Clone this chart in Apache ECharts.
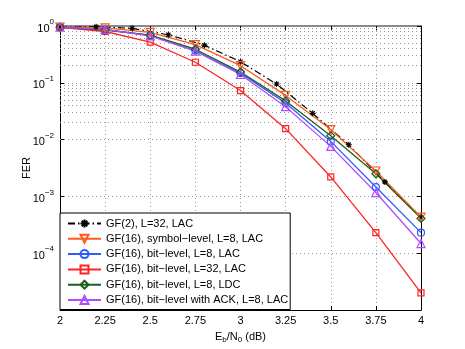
<!DOCTYPE html>
<html>
<head>
<meta charset="utf-8">
<script src="https://cdn.jsdelivr.net/npm/echarts@6/dist/echarts.min.js"></script>
<style>
  html, body { margin: 0; padding: 0; background: #fff; }
  #chart { width: 465px; height: 349px; }
</style>
</head>
<body>
<div id="chart"></div>
<script>
// Eb/N0 points (dB)
const ebnoFine = [2, 2.2, 2.4, 2.6, 2.8, 3, 3.2, 3.4, 3.6, 3.8, 4];
const ebnoStep = [2, 2.25, 2.5, 2.75, 3, 3.25, 3.5, 3.75, 4];

// FER
const ferGf2 = [0.97, 0.97, 0.91, 0.70, 0.46, 0.235, 0.095, 0.029, 0.0081, 0.0018, 0.00043];
const ferSymbolL8 = [0.96, 0.93, 0.77, 0.47, 0.20, 0.06, 0.015, 0.0028, 0.00043];
const ferBitL8 = [0.95, 0.86, 0.68, 0.37, 0.148, 0.044, 0.0093, 0.00146, 0.00023];
const ferBitL32 = [0.95, 0.80, 0.52, 0.23, 0.073, 0.0156, 0.0022, 0.00023, 0.00002];
const ferBitL8Ldc = [0.95, 0.85, 0.69, 0.39, 0.155, 0.048, 0.0117, 0.0025, 0.00041];
const ferBitAck = [0.95, 0.87, 0.67, 0.36, 0.14, 0.038, 0.0076, 0.00117, 0.000148];

const seriesNames = [
  'GF(2), L=32, LAC',
  'GF(16), symbol−level, L=8, LAC',
  'GF(16), bit−level, L=8, LAC',
  'GF(16), bit−level, L=32, LAC',
  'GF(16), bit−level, L=8, LDC',
  'GF(16), bit−level with ACK, L=8, LAC'
];

// minor log grid values 2..9 x 10^k
const minorDecades = [-5, -4, -3, -2, -1];
const minorMantissas = [2, 3, 4, 5, 6, 7, 8, 9];

const FONT = '"Liberation Sans", Arial, Helvetica, sans-serif';
const gridDots = { color: '#9a9a9a', type: [1, 3], width: 1 };
const asterisk = 'path://M0,5L10,5M5,0L5,10M1.5,1.5L8.5,8.5M8.5,1.5L1.5,8.5';

function pairs(xs, ys) {
  return xs.map((x, i) => [x, ys[i]]);
}

function lineSeries(name, xs, ys, color, symbol, size, extra) {
  return Object.assign({
    type: 'line',
    name: name,
    data: pairs(xs, ys),
    symbol: symbol,
    symbolSize: size,
    showSymbol: true,
    lineStyle: { color: color, width: 1.3 },
    itemStyle: { color: 'transparent', borderColor: color, borderWidth: 1.2 },
    emphasis: { disabled: true },
    z: 3
  }, extra || {});
}

const minorLines = [];
minorDecades.forEach((k) => {
  minorMantissas.forEach((m) => minorLines.push({ yAxis: m * Math.pow(10, k) }));
});

const chart = echarts.init(document.getElementById('chart'));

chart.setOption({
  animation: false,
  backgroundColor: '#ffffff',
  textStyle: { fontFamily: FONT },
  grid: { left: 60, right: 44, top: 26, bottom: 39, show: false },
  legend: {
    orient: 'vertical',
    left: 60,
    top: 213,
    padding: [5, 2, 4, 7],
    itemWidth: 33,
    itemHeight: 10,
    itemGap: 4.3,
    backgroundColor: '#ffffff',
    borderColor: '#000000',
    borderWidth: 1,
    borderRadius: 0,
    textStyle: { fontFamily: FONT, fontSize: 11, color: '#000', lineHeight: 11 },
    data: seriesNames
  },
  xAxis: [
    {
      type: 'value',
      min: 2,
      max: 4,
      interval: 0.25,
      name: 'E{sub|b}/N{sub|0} (dB)',
      nameLocation: 'middle',
      nameGap: 20,
      nameMoveOverlap: false,
      nameTextStyle: {
        fontFamily: FONT, fontSize: 11, color: '#000',
        rich: { sub: { fontFamily: FONT, fontSize: 8, verticalAlign: 'bottom', padding: [6, 0, 0, 0] } }
      },
      axisLine: { lineStyle: { color: '#000', width: 1 } },
      axisTick: { inside: true, length: 4, lineStyle: { color: '#000' } },
      axisLabel: { color: '#000', fontFamily: FONT, fontSize: 11, margin: 5 },
      splitLine: { show: true, lineStyle: gridDots }
    },
    {
      type: 'value',
      position: 'top',
      min: 2,
      max: 4,
      interval: 0.25,
      axisLine: { lineStyle: { color: '#8a8a8a', width: 2 } },
      axisTick: { inside: true, length: 4, lineStyle: { color: '#000' } },
      axisLabel: { show: false },
      splitLine: { show: false }
    }
  ],
  yAxis: [
    {
      type: 'log',
      logBase: 10,
      min: 1e-5,
      max: 1,
      name: 'FER',
      nameLocation: 'middle',
      nameRotate: 90,
      nameGap: 28,
      nameMoveOverlap: false,
      nameTextStyle: { fontFamily: FONT, fontSize: 11, color: '#000' },
      axisLine: { show: true, lineStyle: { color: '#000', width: 1 } },
      axisTick: { show: true, inside: true, length: 4, lineStyle: { color: '#000' } },
      axisLabel: {
        color: '#000',
        margin: 6,
        formatter: (v) => {
          const e = Math.round(Math.log10(v));
          if (e < -4) return '';
          return '{b|10}{s|' + (e < 0 ? '−' + (-e) : e) + '}';
        },
        rich: {
          b: { fontFamily: FONT, fontSize: 11, color: '#000', lineHeight: 16, verticalAlign: 'bottom' },
          s: { fontFamily: FONT, fontSize: 8, color: '#000', lineHeight: 16, verticalAlign: 'top', padding: [0, 0, 6, 0] }
        }
      },
      splitLine: { show: true, lineStyle: gridDots }
    },
    {
      type: 'log',
      logBase: 10,
      min: 1e-5,
      max: 1,
      position: 'right',
      axisLine: { show: true, lineStyle: { color: '#000', width: 1 } },
      axisTick: { show: true, inside: true, length: 4, lineStyle: { color: '#000' } },
      axisLabel: { show: false },
      splitLine: { show: false }
    }
  ],
  series: [
    lineSeries(seriesNames[0], ebnoFine, ferGf2, '#000000', asterisk, 6, {
      lineStyle: { color: '#000', width: 1.2, type: [7, 3, 1.5, 3] },
      itemStyle: { color: '#000', borderColor: '#000', borderWidth: 1.1 },
      markLine: {
        silent: true,
        symbol: ['none', 'none'],
        label: { show: false },
        lineStyle: gridDots,
        emphasis: { disabled: true },
        data: minorLines,
        z: 1
      }
    }),
    lineSeries(seriesNames[1], ebnoStep, ferSymbolL8, '#ff5a1e', 'triangle', 8, { symbolRotate: 180 }),
    lineSeries(seriesNames[2], ebnoStep, ferBitL8, '#2f5cff', 'circle', 7),
    lineSeries(seriesNames[3], ebnoStep, ferBitL32, '#ff2424', 'rect', 6),
    lineSeries(seriesNames[4], ebnoStep, ferBitL8Ldc, '#1e5e1e', 'diamond', 8),
    lineSeries(seriesNames[5], ebnoStep, ferBitAck, '#b04cff', 'triangle', 8)
  ]
});
</script>
</body>
</html>
